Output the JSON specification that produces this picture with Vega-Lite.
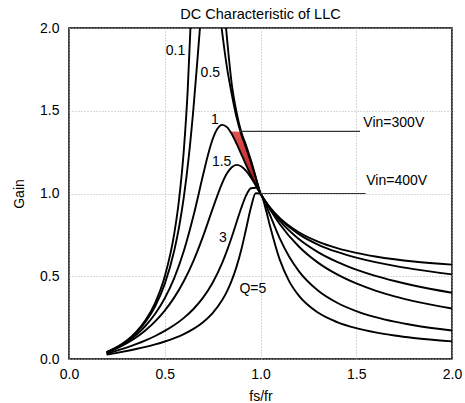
{
  "$schema": "https://vega.github.io/schema/vega-lite/v6.json",
  "width": 383,
  "height": 331,
  "autosize": {"type": "none"},
  "padding": {"left": 69, "top": 28, "right": 13, "bottom": 44},
  "background": "white",
  "title": {"text": "DC Characteristic of LLC", "fontSize": 14.5, "fontWeight": "normal", "font": "Liberation Sans", "color": "black", "offset": 8, "dy": 23, "anchor": "middle", "frame": "group", "baseline": "bottom"},
  "config": {
    "view": {"stroke": "black", "strokeWidth": 1.5},
    "font": "Liberation Sans",
    "axis": {
      "labelFont": "Liberation Sans", "labelFontSize": 14, "labelColor": "black", "labelFlush": false,
      "titleFont": "Liberation Sans", "titleFontSize": 14, "titleFontWeight": "normal", "titleColor": "black",
      "ticks": false, "domain": false,
      "grid": true, "gridColor": "#b0b0b0", "gridDash": [1, 2], "gridWidth": 1
    }
  },
  "datasets": {
    "curves": [
      {"seg":"q01a","fs":0.2,"gain":0.0435},{"seg":"q01a","fs":0.25,"gain":0.0714},{"seg":"q01a","fs":0.3,"gain":0.1097},{"seg":"q01a","fs":0.35,"gain":0.1621},{"seg":"q01a","fs":0.4,"gain":0.2349},{"seg":"q01a","fs":0.45,"gain":0.3394},{"seg":"q01a","fs":0.5,"gain":0.4979},{"seg":"q01a","fs":0.55,"gain":0.7602},{"seg":"q01a","fs":0.575,"gain":0.9666},{"seg":"q01a","fs":0.6,"gain":1.2676},{"seg":"q01a","fs":0.62,"gain":1.6292},{"seg":"q01a","fs":0.6342,"gain":2.0},
      {"seg":"q01b","fs":0.82,"gain":2.0},{"seg":"q01b","fs":0.85,"gain":1.66},{"seg":"q01b","fs":0.875,"gain":1.49},{"seg":"q01b","fs":0.9,"gain":1.37},{"seg":"q01b","fs":0.925,"gain":1.29},{"seg":"q01b","fs":0.95,"gain":1.2},{"seg":"q01b","fs":0.975,"gain":1.1},{"seg":"q01b","fs":1.0,"gain":1.0},{"seg":"q01b","fs":1.025,"gain":0.954},{"seg":"q01b","fs":1.05,"gain":0.9149},{"seg":"q01b","fs":1.1,"gain":0.8519},{"seg":"q01b","fs":1.2,"gain":0.7655},{"seg":"q01b","fs":1.3,"gain":0.7093},{"seg":"q01b","fs":1.4,"gain":0.6701},{"seg":"q01b","fs":1.5,"gain":0.6414},{"seg":"q01b","fs":1.6,"gain":0.6196},{"seg":"q01b","fs":1.7,"gain":0.6025},{"seg":"q01b","fs":1.8,"gain":0.5888},{"seg":"q01b","fs":2.0,"gain":0.5703},
      {"seg":"q05a","fs":0.2,"gain":0.0431},{"seg":"q05a","fs":0.25,"gain":0.0705},{"seg":"q05a","fs":0.3,"gain":0.1075},{"seg":"q05a","fs":0.35,"gain":0.1574},{"seg":"q05a","fs":0.4,"gain":0.2251},{"seg":"q05a","fs":0.45,"gain":0.319},{"seg":"q05a","fs":0.5,"gain":0.4538},{"seg":"q05a","fs":0.55,"gain":0.6568},{"seg":"q05a","fs":0.575,"gain":0.7992},{"seg":"q05a","fs":0.6,"gain":0.9815},{"seg":"q05a","fs":0.625,"gain":1.2169},{"seg":"q05a","fs":0.65,"gain":1.516},{"seg":"q05a","fs":0.675,"gain":1.872},{"seg":"q05a","fs":0.6838,"gain":2.0},
      {"seg":"q05b","fs":0.797,"gain":2.0},{"seg":"q05b","fs":0.825,"gain":1.76},{"seg":"q05b","fs":0.85,"gain":1.6},{"seg":"q05b","fs":0.875,"gain":1.46},{"seg":"q05b","fs":0.9,"gain":1.355},{"seg":"q05b","fs":0.925,"gain":1.275},{"seg":"q05b","fs":0.95,"gain":1.19},{"seg":"q05b","fs":0.975,"gain":1.095},{"seg":"q05b","fs":1.0,"gain":1.0},{"seg":"q05b","fs":1.025,"gain":0.9536},{"seg":"q05b","fs":1.05,"gain":0.9136},{"seg":"q05b","fs":1.1,"gain":0.8478},{"seg":"q05b","fs":1.2,"gain":0.7547},{"seg":"q05b","fs":1.3,"gain":0.6916},{"seg":"q05b","fs":1.4,"gain":0.6467},{"seg":"q05b","fs":1.5,"gain":0.6124},{"seg":"q05b","fs":1.6,"gain":0.585},{"seg":"q05b","fs":1.7,"gain":0.5625},{"seg":"q05b","fs":1.8,"gain":0.5434},{"seg":"q05b","fs":2.0,"gain":0.5112},
      {"seg":"q1","fs":0.2,"gain":0.0421},{"seg":"q1","fs":0.25,"gain":0.0678},{"seg":"q1","fs":0.3,"gain":0.1015},{"seg":"q1","fs":0.35,"gain":0.145},{"seg":"q1","fs":0.4,"gain":0.2009},{"seg":"q1","fs":0.45,"gain":0.273},{"seg":"q1","fs":0.5,"gain":0.367},{"seg":"q1","fs":0.55,"gain":0.4906},{"seg":"q1","fs":0.6,"gain":0.6541},{"seg":"q1","fs":0.65,"gain":0.8651},{"seg":"q1","fs":0.7,"gain":1.1112},{"seg":"q1","fs":0.725,"gain":1.2299},{"seg":"q1","fs":0.75,"gain":1.3277},{"seg":"q1","fs":0.775,"gain":1.3916},{"seg":"q1","fs":0.8,"gain":1.4148},{"seg":"q1","fs":0.825,"gain":1.4007},{"seg":"q1","fs":0.85,"gain":1.3589},{"seg":"q1","fs":0.875,"gain":1.3012},{"seg":"q1","fs":0.9,"gain":1.2367},{"seg":"q1","fs":0.925,"gain":1.172},{"seg":"q1","fs":0.95,"gain":1.1099},{"seg":"q1","fs":0.975,"gain":1.0524},{"seg":"q1","fs":1.0,"gain":1.0},{"seg":"q1","fs":1.025,"gain":0.9524},{"seg":"q1","fs":1.05,"gain":0.9094},{"seg":"q1","fs":1.1,"gain":0.8354},{"seg":"q1","fs":1.2,"gain":0.7247},{"seg":"q1","fs":1.3,"gain":0.6459},{"seg":"q1","fs":1.4,"gain":0.5867},{"seg":"q1","fs":1.5,"gain":0.5403},{"seg":"q1","fs":1.6,"gain":0.5027},{"seg":"q1","fs":1.7,"gain":0.4714},{"seg":"q1","fs":1.8,"gain":0.4438},{"seg":"q1","fs":2.0,"gain":0.4},
      {"seg":"q15","fs":0.2,"gain":0.0406},{"seg":"q15","fs":0.25,"gain":0.064},{"seg":"q15","fs":0.3,"gain":0.0935},{"seg":"q15","fs":0.35,"gain":0.1296},{"seg":"q15","fs":0.4,"gain":0.1736},{"seg":"q15","fs":0.45,"gain":0.2271},{"seg":"q15","fs":0.5,"gain":0.2923},{"seg":"q15","fs":0.55,"gain":0.3723},{"seg":"q15","fs":0.6,"gain":0.4712},{"seg":"q15","fs":0.65,"gain":0.5935},{"seg":"q15","fs":0.7,"gain":0.7412},{"seg":"q15","fs":0.75,"gain":0.9073},{"seg":"q15","fs":0.8,"gain":1.063},{"seg":"q15","fs":0.825,"gain":1.1217},{"seg":"q15","fs":0.85,"gain":1.159},{"seg":"q15","fs":0.875,"gain":1.1728},{"seg":"q15","fs":0.9,"gain":1.1635},{"seg":"q15","fs":0.925,"gain":1.1365},{"seg":"q15","fs":0.95,"gain":1.0965},{"seg":"q15","fs":0.975,"gain":1.0496},{"seg":"q15","fs":1.0,"gain":1.0},{"seg":"q15","fs":1.025,"gain":0.9504},{"seg":"q15","fs":1.05,"gain":0.9027},{"seg":"q15","fs":1.1,"gain":0.8159},{"seg":"q15","fs":1.2,"gain":0.6797},{"seg":"q15","fs":1.3,"gain":0.5824},{"seg":"q15","fs":1.4,"gain":0.511},{"seg":"q15","fs":1.5,"gain":0.4565},{"seg":"q15","fs":1.6,"gain":0.4136},{"seg":"q15","fs":1.7,"gain":0.3788},{"seg":"q15","fs":1.8,"gain":0.35},{"seg":"q15","fs":2.0,"gain":0.3047},
      {"seg":"q3","fs":0.2,"gain":0.0344},{"seg":"q3","fs":0.25,"gain":0.0507},{"seg":"q3","fs":0.3,"gain":0.0692},{"seg":"q3","fs":0.35,"gain":0.0898},{"seg":"q3","fs":0.4,"gain":0.1129},{"seg":"q3","fs":0.45,"gain":0.1391},{"seg":"q3","fs":0.5,"gain":0.1695},{"seg":"q3","fs":0.55,"gain":0.2052},{"seg":"q3","fs":0.6,"gain":0.2485},{"seg":"q3","fs":0.65,"gain":0.3022},{"seg":"q3","fs":0.7,"gain":0.3707},{"seg":"q3","fs":0.75,"gain":0.4607},{"seg":"q3","fs":0.8,"gain":0.5807},{"seg":"q3","fs":0.825,"gain":0.6545},{"seg":"q3","fs":0.85,"gain":0.7373},{"seg":"q3","fs":0.875,"gain":0.8265},{"seg":"q3","fs":0.9,"gain":0.914},{"seg":"q3","fs":0.925,"gain":0.9883},{"seg":"q3","fs":0.95,"gain":1.0316},{"seg":"q3","fs":0.975,"gain":1.0347},{"seg":"q3","fs":1.0,"gain":1.0},{"seg":"q3","fs":1.025,"gain":0.9398},{"seg":"q3","fs":1.05,"gain":0.8688},{"seg":"q3","fs":1.1,"gain":0.7301},{"seg":"q3","fs":1.15,"gain":0.6173},{"seg":"q3","fs":1.2,"gain":0.5311},{"seg":"q3","fs":1.3,"gain":0.4137},{"seg":"q3","fs":1.4,"gain":0.3398},{"seg":"q3","fs":1.5,"gain":0.2895},{"seg":"q3","fs":1.6,"gain":0.2531},{"seg":"q3","fs":1.7,"gain":0.2255},{"seg":"q3","fs":1.8,"gain":0.2038},{"seg":"q3","fs":2.0,"gain":0.1718},
      {"seg":"q5","fs":0.2,"gain":0.0267},{"seg":"q5","fs":0.25,"gain":0.037},{"seg":"q5","fs":0.3,"gain":0.0481},{"seg":"q5","fs":0.35,"gain":0.0601},{"seg":"q5","fs":0.4,"gain":0.0734},{"seg":"q5","fs":0.45,"gain":0.0883},{"seg":"q5","fs":0.5,"gain":0.1056},{"seg":"q5","fs":0.55,"gain":0.1261},{"seg":"q5","fs":0.6,"gain":0.1509},{"seg":"q5","fs":0.65,"gain":0.182},{"seg":"q5","fs":0.7,"gain":0.2225},{"seg":"q5","fs":0.75,"gain":0.2774},{"seg":"q5","fs":0.8,"gain":0.3559},{"seg":"q5","fs":0.825,"gain":0.4089},{"seg":"q5","fs":0.85,"gain":0.4748},{"seg":"q5","fs":0.875,"gain":0.5582},{"seg":"q5","fs":0.9,"gain":0.6618},{"seg":"q5","fs":0.925,"gain":0.7867},{"seg":"q5","fs":0.95,"gain":0.9147},{"seg":"q5","fs":0.975,"gain":1.0018},{"seg":"q5","fs":1.0,"gain":1.0},{"seg":"q5","fs":1.025,"gain":0.9161},{"seg":"q5","fs":1.05,"gain":0.8017},{"seg":"q5","fs":1.1,"gain":0.6017},{"seg":"q5","fs":1.15,"gain":0.4693},{"seg":"q5","fs":1.2,"gain":0.383},{"seg":"q5","fs":1.3,"gain":0.2806},{"seg":"q5","fs":1.4,"gain":0.223},{"seg":"q5","fs":1.5,"gain":0.1862},{"seg":"q5","fs":1.6,"gain":0.1606},{"seg":"q5","fs":1.7,"gain":0.1418},{"seg":"q5","fs":1.8,"gain":0.1272},{"seg":"q5","fs":2.0,"gain":0.1062}
    ],
    "band": [
      {"fs":0.8422,"lo":1.374,"hi":1.374},{"fs":0.85,"lo":1.3589,"hi":1.374},{"fs":0.875,"lo":1.3012,"hi":1.374},{"fs":0.9,"lo":1.2367,"hi":1.37},{"fs":0.925,"lo":1.172,"hi":1.29},{"fs":0.95,"lo":1.1099,"hi":1.2},{"fs":0.975,"lo":1.0524,"hi":1.1},{"fs":1.0,"lo":1.0,"hi":1.0}
    ],
    "leaders": [
      {"from":0.893,"to":1.52,"gain":1.375},
      {"from":1.0,"to":1.549,"gain":1.0}
    ],
    "labels": [
      {"fs":0.556,"gain":1.859,"t":"0.1"},
      {"fs":0.738,"gain":1.726,"t":"0.5"},
      {"fs":0.762,"gain":1.446,"t":"1"},
      {"fs":0.797,"gain":1.189,"t":"1.5"},
      {"fs":0.803,"gain":0.729,"t":"3"},
      {"fs":0.96,"gain":0.421,"t":"Q=5"},
      {"fs":1.696,"gain":1.429,"t":"Vin=300V"},
      {"fs":1.711,"gain":1.074,"t":"Vin=400V"}
    ]
  },
  "layer": [
    {
      "data": {"name": "band"},
      "mark": {"type": "area", "clip": true, "fill": {"gradient": "linear", "x1": 0, "y1": 0, "x2": 0, "y2": 1, "stops": [{"offset": 0, "color": "#e65555"}, {"offset": 1, "color": "#a00c0c"}]}},
      "encoding": {
        "x": {"field": "fs", "type": "quantitative", "scale": {"domain": [0, 2], "nice": false},
              "axis": {"values": [0, 0.5, 1, 1.5, 2], "format": ".1f", "title": "fs/fr", "labelPadding": 8, "titlePadding": 8}},
        "y": {"field": "lo", "type": "quantitative", "scale": {"domain": [0, 2], "nice": false},
              "axis": {"values": [0, 0.5, 1, 1.5, 2], "format": ".1f", "title": "Gain", "labelPadding": 10, "titlePadding": 13}},
        "y2": {"field": "hi"}
      }
    },
    {
      "data": {"name": "curves"},
      "mark": {"type": "line", "clip": true, "color": "black", "strokeWidth": 1.9, "interpolate": "monotone", "strokeCap": "round"},
      "encoding": {
        "x": {"field": "fs", "type": "quantitative"},
        "y": {"field": "gain", "type": "quantitative"},
        "detail": {"field": "seg", "type": "nominal"}
      }
    },
    {
      "data": {"name": "leaders"},
      "mark": {"type": "rule", "color": "#333333", "strokeWidth": 1.2},
      "encoding": {
        "x": {"field": "from", "type": "quantitative"},
        "x2": {"field": "to"},
        "y": {"field": "gain", "type": "quantitative"}
      }
    },
    {
      "data": {"name": "labels"},
      "mark": {"type": "text", "font": "Liberation Sans", "fontSize": 14, "color": "black", "align": "center", "baseline": "middle"},
      "encoding": {
        "x": {"field": "fs", "type": "quantitative"},
        "y": {"field": "gain", "type": "quantitative"},
        "text": {"field": "t", "type": "nominal"}
      }
    }
  ]
}
